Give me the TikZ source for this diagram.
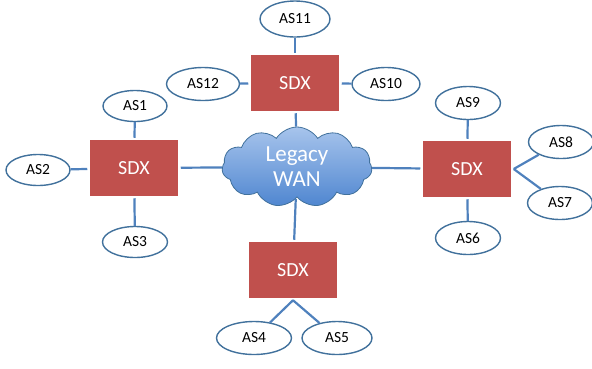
\documentclass[tikz,border=0pt]{standalone}
\usepackage{fontspec}
\setmainfont{Carlito}
\usetikzlibrary{shapes.geometric,shapes.symbols,shadows}
\definecolor{sdxred}{HTML}{C0504D}
\definecolor{asblue}{HTML}{4F81BD}
\definecolor{asline}{HTML}{41719C}
\definecolor{cloudtop}{HTML}{A7C4EC}
\definecolor{cloudbot}{HTML}{4F86D0}
\tikzset{
	sdx/.style={rectangle, fill=sdxred, draw=white, line width=2.5pt, minimum width=91, minimum height=58, text=white, font=\fontsize{20}{22}\selectfont, drop shadow={shadow xshift=1pt, shadow yshift=-1pt, opacity=0.2, fill=black!60}},
	as/.style={ellipse, fill=white, draw=asline, line width=1.4pt, minimum width=68, minimum height=33, inner sep=0pt, font=\fontsize{15.5}{17}\selectfont},
	link/.style={draw=asblue, line width=2.2pt},
}
\begin{document}
\begin{tikzpicture}[x=1pt, y=-1pt]
		\useasboundingbox (0, 0) rectangle (592, 368);
		
		%%%%% CLOUD %%%%%
		\node[cloud, cloud puffs=11, cloud puff arc=115, aspect=1.9, minimum width=150, minimum height=80, inner sep=0pt,
			top color=cloudtop, bottom color=cloudbot, draw=asline, line width=0.8pt,
			text=white, font=\fontsize{23}{25}\selectfont, align=center] (wan) at (297, 167) {Legacy\\WAN};
		
		%%%%% SDX %%%%%
		\node[sdx] (sdxT) at (295, 83) {SDX};
		\node[sdx] (sdxL) at (134, 168) {SDX};
		\node[sdx] (sdxR) at (467, 169) {SDX};
		\node[sdx] (sdxB) at (293, 270) {SDX};
		
		%%%%% AS %%%%%
		\node[as, minimum width=70, minimum height=36] (as11) at (295, 19) {AS11};
		\node[as, minimum width=73] (as12) at (203, 84) {AS12};
		\node[as] (as10) at (386, 84) {AS10};
		
		\node[as, minimum width=64, minimum height=31] (as1) at (135, 106) {AS1};
		\node[as, minimum width=64, minimum height=31] (as2) at (38, 170) {AS2};
		\node[as, minimum width=65, minimum height=31] (as3) at (135, 242) {AS3};
		
		\node[as, minimum width=65] (as9) at (468, 103) {AS9};
		\node[as, minimum width=65] (as8) at (561, 142) {AS8};
		\node[as, minimum width=65] (as7) at (560, 203) {AS7};
		\node[as, minimum width=65] (as6) at (468, 238) {AS6};
		
		\node[as, minimum width=75] (as4) at (254, 338) {AS4};
		\node[as, minimum width=70] (as5) at (337, 338) {AS5};
		
		%%%%% LINKS %%%%%
		\draw[link] (sdxT) -- (wan);
		\draw[link] (sdxB) -- (wan);
		\draw[link] (sdxL) -- (wan);
		\draw[link] (sdxR) -- (wan);
		
		\draw[link] (sdxT) -- (as11);
		\draw[link] (sdxT) -- (as12);
		\draw[link] (sdxT) -- (as10);
		
		\draw[link] (sdxL) -- (as1);
		\draw[link] (sdxL) -- (as2);
		\draw[link] (sdxL) -- (as3);
		
		\draw[link] (sdxR) -- (as9);
		\draw[link] (sdxR) -- (as6);
		\draw[link] (sdxR.east) -- (as8);
		\draw[link] (sdxR.east) -- (as7);
		
		\draw[link] (sdxB.south) -- (as4);
		\draw[link] (sdxB.south) -- (as5);
	\end{tikzpicture}
\end{document}
